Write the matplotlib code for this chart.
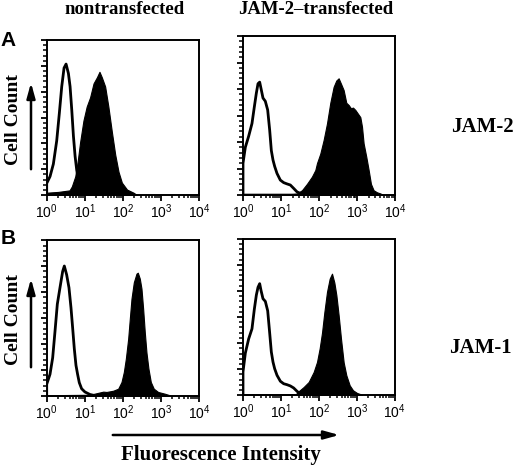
import numpy as np
import matplotlib
matplotlib.use("Agg")
import matplotlib.pyplot as plt
from matplotlib.ticker import FixedLocator, NullFormatter

plt.rcParams['font.family'] = ['Liberation Serif', 'DejaVu Serif']
plt.rcParams['mathtext.fontset'] = 'custom'
plt.rcParams['mathtext.rm'] = 'Liberation Sans'

# 数据：荧光强度取 log10（0~4 个数量级），细胞数按坐标高度的百分比
# A 行左：未转染
a_left_open_x = [0.0, 0.0, 0.088, 0.175, 0.263, 0.333, 0.395, 0.456, 0.509, 0.570, 0.614,
                 0.658, 0.702, 0.746, 0.789, 0.833, 0.877, 0.965, 1.1]
a_left_open_y = [0, 7.5, 12, 20, 35, 53, 70, 82, 84.5, 78.5, 70,
                 55, 38, 25, 16, 10, 5, 2, 0.5]
a_left_fill_x = [0.0, 0.3, 0.6, 0.66, 0.75, 0.81, 0.877, 0.965, 1.05, 1.14, 1.23, 1.32,
                 1.386, 1.447, 1.535, 1.62, 1.71, 1.80, 1.886, 1.974, 2.11, 2.28, 2.37]
a_left_fill_y = [1.5, 2, 3, 5.5, 12, 21, 34, 48, 57, 63, 72, 76,
                 79.5, 76, 70, 57, 41, 26, 15, 8, 3.5, 1.5, 0]

# A 行右：JAM-2 转染
a_right_open_x = [0.0, 0.0, 0.061, 0.149, 0.236, 0.298, 0.35, 0.394, 0.438, 0.473, 0.525,
                  0.586, 0.648, 0.70, 0.744, 0.788, 0.832, 0.893, 0.98, 1.068, 1.155,
                  1.243, 1.33, 1.418, 1.505]
a_right_open_y = [0, 20, 30, 37, 45, 55.5, 64, 70, 71, 67, 61,
                  59, 53.5, 41, 28, 22, 18, 13.6, 9.4, 7.8, 7,
                  6.3, 4.2, 2, 1]
a_right_fill_x = [0.0, 1.3, 1.418, 1.549, 1.68, 1.81, 1.90, 1.943, 2.03, 2.118, 2.206, 2.293,
                  2.38, 2.45, 2.512, 2.573, 2.643, 2.713, 2.775, 2.836, 2.888, 2.95,
                  3.011, 3.081, 3.125, 3.168, 3.238, 3.30, 3.36, 3.43, 3.52, 3.606, 3.69]
a_right_fill_y = [0.8, 0.8, 1, 3, 7, 11.5, 15.7, 20, 26, 34.6, 45, 58,
                  68, 72, 73.4, 70, 66, 58, 56.6, 54.5, 55, 53.5,
                  51.4, 49, 43, 32.5, 24, 15.7, 7, 3, 1.7, 1, 0]

# B 行左：未转染
b_left_open_x = [0.0, 0.0, 0.087, 0.157, 0.218, 0.279, 0.349, 0.419, 0.463, 0.524, 0.585,
                 0.638, 0.681, 0.725, 0.769, 0.812, 0.856, 0.917, 1.004, 1.135, 1.223]
b_left_open_y = [0, 7.5, 14, 24.6, 41.5, 59, 69.6, 80, 83.5, 77.9, 69.6,
                 56.7, 43.9, 30.4, 19.7, 13.9, 8.6, 4.7, 2.6, 1, 0.5]
b_left_fill_x = [0.0, 1.135, 1.223, 1.485, 1.572, 1.747, 1.878, 1.965, 2.026, 2.079, 2.14,
                 2.183, 2.227, 2.288, 2.358, 2.393, 2.445, 2.489, 2.533, 2.576, 2.62,
                 2.672, 2.734, 2.812, 2.926, 3.1, 3.231]
b_left_fill_y = [0.5, 0.8, 1.3, 2.8, 2.6, 3.4, 4.7, 9, 15.4, 24, 36.8,
                 49.7, 62.5, 73, 78.6, 79.2, 75.4, 69, 56, 41, 28,
                 17.6, 9, 4.7, 2.6, 1.5, 0.5]

# B 行右：JAM-2 转染
b_right_open_x = [0.0, 0.0, 0.062, 0.149, 0.237, 0.299, 0.352, 0.396, 0.44, 0.475, 0.527,
                  0.589, 0.651, 0.703, 0.747, 0.791, 0.835, 0.897, 0.985, 1.073, 1.16,
                  1.248, 1.336, 1.424, 1.512]
b_right_open_y = [0, 15, 27, 36, 42.5, 55, 64, 69, 71.3, 67, 61.7,
                  60, 54, 40, 27.7, 21.3, 17, 12.8, 9, 7.4, 6.8,
                  6, 4.7, 2.6, 0.8]
b_right_fill_x = [0.0, 1.3, 1.38, 1.468, 1.6, 1.732, 1.864, 1.952, 2.022, 2.084, 2.145,
                  2.215, 2.286, 2.347, 2.409, 2.462, 2.523, 2.585, 2.655, 2.725, 2.813,
                  2.901, 3.007, 3.138]
b_right_fill_y = [0.8, 0.8, 0.4, 2.6, 5.3, 8.5, 14.9, 21.3, 30, 40, 53,
                  66, 74.5, 77.7, 72, 64, 51, 36, 21, 12.8, 6.4,
                  3.2, 1.5, 0.4]

panels = [
    ([0.0898, 0.5824, 0.2929, 0.3319], a_left_open_x, a_left_open_y, a_left_fill_x, a_left_fill_y),
    ([0.4673, 0.5824, 0.2929, 0.3405], a_right_open_x, a_right_open_y, a_right_fill_x, a_right_fill_y),
    ([0.0898, 0.1520, 0.2929, 0.3334], b_left_open_x, b_left_open_y, b_left_fill_x, b_left_fill_y),
    ([0.4673, 0.1535, 0.2917, 0.3353], b_right_open_x, b_right_open_y, b_right_fill_x, b_right_fill_y),
]

fig = plt.figure(figsize=(5.2, 4.67), dpi=100)

for pos, ox, oy, fx, fy in panels:
    ax = fig.add_axes(pos)
    ax.fill_between(10 ** np.array(fx), fy, 0, color='black', lw=0.8, edgecolor='black')
    ax.plot(10 ** np.array(ox), oy, color='black', lw=2)
    ax.set_xscale('log')
    ax.set_xlim(1, 1e4)
    ax.set_ylim(0, 100)
    ax.xaxis.set_major_locator(FixedLocator([1, 10, 100, 1000, 10000]))
    ax.xaxis.set_minor_locator(FixedLocator([m * 10 ** d for d in range(4) for m in range(2, 10)]))
    ax.xaxis.set_minor_formatter(NullFormatter())
    ax.set_xticklabels([r'$10^{%d}$' % d for d in range(5)])
    ax.yaxis.set_major_locator(FixedLocator(np.linspace(0, 100, 7)))
    ax.yaxis.set_minor_locator(FixedLocator(np.linspace(0, 100, 31)))
    ax.set_yticklabels([])
    ax.tick_params(axis='x', which='major', direction='out', length=4, width=1.3,
                   labelsize=10, pad=1)
    ax.tick_params(axis='x', which='minor', direction='out', length=2.5, width=1.1)
    ax.tick_params(axis='y', which='major', direction='out', length=4.5, width=1.3)
    ax.tick_params(axis='y', which='minor', direction='out', length=3, width=1.1)
    for s in ax.spines.values():
        s.set_linewidth(1.4)


def fx_(px):
    return px / 520


def fy_(py):
    return 1 - py / 467


fig.text(fx_(125), fy_(10), 'nontransfected', ha='center', va='center',
         fontsize=13.5, fontweight='bold')
fig.text(fx_(316), fy_(10), 'JAM-2\u2013transfected', ha='center', va='center',
         fontsize=13.5, fontweight='bold')
fig.text(fx_(8.5), fy_(40), 'A', ha='center', va='center', fontsize=15,
         fontweight='bold', family='Liberation Sans')
fig.text(fx_(8.5), fy_(239), 'B', ha='center', va='center', fontsize=15,
         fontweight='bold', family='Liberation Sans')
for cy in (120, 320):
    fig.text(fx_(14), fy_(cy), 'Cell Count', ha='center', va='center', rotation=90,
             fontsize=14, fontweight='bold')
fig.text(fx_(482), fy_(127), 'JAM-2', ha='center', va='center', fontsize=15,
         fontweight='bold')
fig.text(fx_(480), fy_(348), 'JAM-1', ha='center', va='center', fontsize=15,
         fontweight='bold')
fig.text(fx_(221), fy_(455), 'Fluorescence Intensity', ha='center', va='center',
         fontsize=15, fontweight='bold')

# 箭头
arrow_style = dict(arrowstyle='-|>,head_length=0.9,head_width=0.25', color='black', lw=1.8)
for y0, y1 in ((172, 80), (370, 276)):
    fig.add_artist(matplotlib.patches.FancyArrowPatch(
        (fx_(31), fy_(y0)), (fx_(31), fy_(y1)), transform=fig.transFigure,
        mutation_scale=10, **arrow_style))
fig.add_artist(matplotlib.patches.FancyArrowPatch(
    (fx_(110), fy_(435)), (fx_(342), fy_(435)), transform=fig.transFigure,
    mutation_scale=10, **arrow_style))

fig.savefig('out.png', dpi=100)
